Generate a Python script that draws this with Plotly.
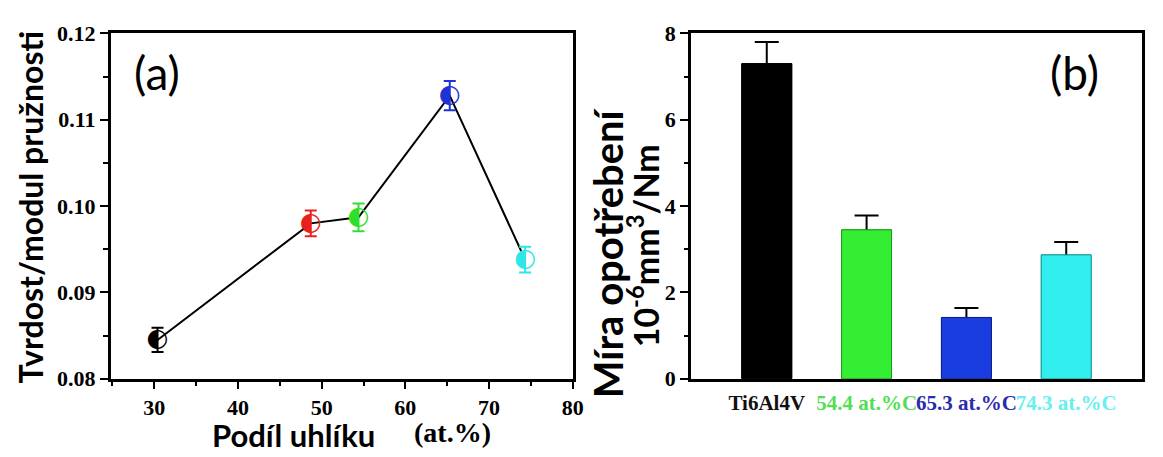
import plotly.graph_objects as go

# ---- data: panel (a) ----
carbon_at = [30.4, 48.7, 54.4, 65.3, 74.3]
hardness_ratio = [0.0845, 0.0980, 0.0987, 0.1128, 0.0938]
hardness_err = [0.0014, 0.0015, 0.0016, 0.0017, 0.0015]
point_colors = ["#000000", "#e8201c", "#2ee02e", "#1c33d6", "#2ee6e6"]
a_xticks = [30, 40, 50, 60, 70, 80]
a_yticks = [0.08, 0.09, 0.10, 0.11, 0.12]

# ---- data: panel (b) ----
categories = ["Ti6Al4V", "54.4 at.%C", "65.3 at.%C", "74.3 at.%C"]
wear_rate = [7.3, 3.45, 1.42, 2.87]
wear_err = [0.5, 0.33, 0.22, 0.30]
bar_colors = ["#000000", "#33ee33", "#1a3de0", "#33eeee"]
bar_edge = ["#000000", "#1f9a1f", "#10208a", "#1a9a9a"]
label_colors = ["#111111", "#55dd55", "#2b2bb0", "#66f0f0"]
b_yticks = [0, 2, 4, 6, 8]

W, H = 1163, 457
def px(x):
    return x / W
def py(y):
    return 1 - y / H

fig = go.Figure()

# connecting line
fig.add_trace(go.Scatter(x=carbon_at, y=hardness_ratio, mode="lines",
                         line=dict(color="black", width=2),
                         xaxis="x", yaxis="y", showlegend=False, hoverinfo="skip"))
# points with error bars (half-filled circle glyph)
for xv, yv, ev, c in zip(carbon_at, hardness_ratio, hardness_err, point_colors):
    fig.add_trace(go.Scatter(
        x=[xv], y=[yv], mode="markers",
        marker=dict(symbol="circle", size=15, color="rgba(255,255,255,0)",
                    line=dict(color="rgba(0,0,0,0)", width=0)),
        error_y=dict(type="data", array=[ev], color=c, thickness=2, width=6),
        xaxis="x", yaxis="y", showlegend=False, hoverinfo="skip"))
    fig.add_trace(go.Scatter(
        x=[xv], y=[yv], mode="text", text=["\u25D0"],
        textposition="middle center",
        textfont=dict(family="DejaVu Sans", size=25, color=c),
        xaxis="x", yaxis="y", showlegend=False, hoverinfo="skip"))

# bars: first with error bars, then the same bars on top to hide the lower whisker
fig.add_trace(go.Bar(
    x=list(range(len(categories))), y=wear_rate, width=0.5,
    marker=dict(color=bar_colors, line=dict(color=bar_edge, width=1)),
    error_y=dict(type="data", array=wear_err, color="black", thickness=2, width=12),
    xaxis="x2", yaxis="y2", showlegend=False, hoverinfo="skip"))
fig.add_trace(go.Bar(
    x=list(range(len(categories))), y=wear_rate, width=0.5,
    marker=dict(color=bar_colors, line=dict(color=bar_edge, width=1)),
    xaxis="x2", yaxis="y2", showlegend=False, hoverinfo="skip"))

tickfont = dict(family="Liberation Serif", size=22, color="black", weight="bold")
axis_common = dict(showline=True, linecolor="black", linewidth=2.5, mirror=True,
                   showgrid=False, zeroline=False, ticks="outside",
                   tickwidth=2, tickcolor="black", tickfont=tickfont)

fig.update_layout(
    width=W, height=H, margin=dict(l=0, r=0, t=0, b=0),
    paper_bgcolor="white", plot_bgcolor="white", barmode="overlay",
    xaxis=dict(domain=[px(111.7), px(578.3)], range=[24.8, 80], anchor="y",
               tickvals=a_xticks, ticklen=7,
               minor=dict(ticks="outside", dtick=5, tick0=0, ticklen=4, tickwidth=2, tickcolor="black"),
               **axis_common),
    yaxis=dict(domain=[py(388), py(22.7)], range=[0.08, 0.12], anchor="x",
               tickvals=a_yticks, tickformat=".2f", ticklen=8,
               minor=dict(ticks="outside", dtick=0.005, tick0=0.08, ticklen=5, tickwidth=2, tickcolor="black"),
               **axis_common),
    xaxis2=dict(domain=[px(697.5), px(1153)], range=[-0.76, 3.76], anchor="y2",
                tickvals=list(range(len(categories))),
                ticktext=[f'<span style="color:{c}">{t}</span>' for t, c in zip(categories, label_colors)],
                tickangle=0, ticklen=3, tickcolor="rgba(0,0,0,0)",
                showline=True, linecolor="black", linewidth=2.5, mirror=True,
                showgrid=False, zeroline=False, ticks="outside",
                tickfont=dict(family="Liberation Serif", size=21, color="black", weight="bold")),
    yaxis2=dict(domain=[py(388), py(22.7)], range=[0, 8], anchor="x2",
                tickvals=b_yticks, ticklen=8,
                minor=dict(ticks="outside", dtick=1, tick0=0, ticklen=4, tickwidth=2, tickcolor="black"),
                **axis_common),
)

anns = [
    dict(text="(a)", x=px(158), y=py(64), font=dict(family="Lato", size=46, color="black")),
    dict(text="(b)", x=px(1085), y=py(64), font=dict(family="Lato", size=46, color="black")),
    dict(text="Tvrdost/modul pružnosti", x=px(31), y=py(207), textangle=-90,
         font=dict(family="Lato", size=32, color="black", weight="bold")),
    dict(text="Míra opotřebení", x=px(614), y=py(255), textangle=-90,
         font=dict(family="Lato", size=40, color="black", weight="bold")),
    dict(text="10<sup>-6</sup>mm<sup>3</sup>/Nm", x=px(650), y=py(247), textangle=-90,
         font=dict(family="Lato", size=34, color="black", weight="bold")),
    dict(text="Podíl uhlíku", x=px(296), y=py(447),
         font=dict(family="Lato", size=31, color="black", weight="bold")),
    dict(text="(at.%)", x=px(457), y=py(445),
         font=dict(family="Liberation Serif", size=28, color="black", weight="bold")),
]
for a in anns:
    fig.add_annotation(xref="paper", yref="paper", showarrow=False,
                       xanchor="center", yanchor="middle", **a)

fig.write_html("out.html")
